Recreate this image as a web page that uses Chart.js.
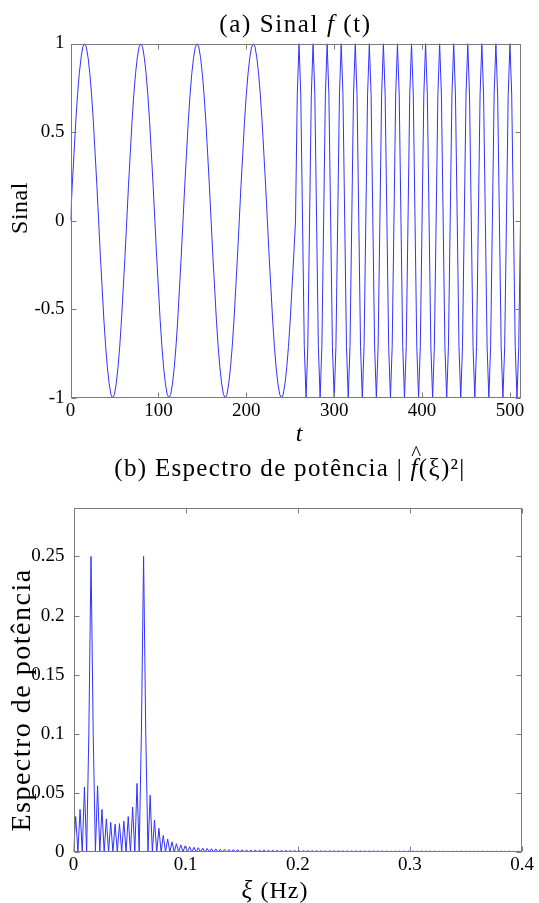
<!DOCTYPE html>
<html>
<head>
<meta charset="utf-8">
<script src="https://cdn.jsdelivr.net/npm/chart.js@4.4.0/dist/chart.umd.min.js"></script>
<style>
body{margin:0;background:#fff;}
canvas{position:absolute;left:0;}
#sinal{top:0;}
#espectro{top:445px;}
</style>
</head>
<body>
<canvas id="sinal" width="539" height="455"></canvas>
<canvas id="espectro" width="539" height="458"></canvas>
<script>
const tStep = 2;
const sinalLento = [
    0,0.2,0.38,0.56,0.71,0.83,0.92,0.98,1,0.98,0.92,0.83,0.71,0.56,0.38,0.2,0,-0.2,-0.38,-0.56,-0.71,-0.83,-0.92,-0.98,-1,-0.98,-0.92,-0.83,-0.71,-0.56,-0.38,-0.2,
    0,0.2,0.38,0.56,0.71,0.83,0.92,0.98,1,0.98,0.92,0.83,0.71,0.56,0.38,0.2,0,-0.2,-0.38,-0.56,-0.71,-0.83,-0.92,-0.98,-1,-0.98,-0.92,-0.83,-0.71,-0.56,-0.38,-0.2,
    0,0.2,0.38,0.56,0.71,0.83,0.92,0.98,1,0.98,0.92,0.83,0.71,0.56,0.38,0.2,0,-0.2,-0.38,-0.56,-0.71,-0.83,-0.92,-0.98,-1,-0.98,-0.92,-0.83,-0.71,-0.56,-0.38,-0.2,
    0,0.2,0.38,0.56,0.71,0.83,0.92,0.98,1,0.98,0.92,0.83,0.71,0.56,0.38,0.2,0,-0.2,-0.38,-0.56,-0.71,-0.83,-0.92,-0.98,-1,-0.98,-0.92,-0.83,-0.71,-0.56,-0.38,-0.2
];
const sinalRapido = [
    0,0.71,1,0.71,0,-0.71,-1,-0.71, 0,0.71,1,0.71,0,-0.71,-1,-0.71,
    0,0.71,1,0.71,0,-0.71,-1,-0.71, 0,0.71,1,0.71,0,-0.71,-1,-0.71,
    0,0.71,1,0.71,0,-0.71,-1,-0.71, 0,0.71,1,0.71,0,-0.71,-1,-0.71,
    0,0.71,1,0.71,0,-0.71,-1,-0.71, 0,0.71,1,0.71,0,-0.71,-1,-0.71,
    0,0.71,1,0.71,0,-0.71,-1,-0.71, 0,0.71,1,0.71,0,-0.71,-1,-0.71,
    0,0.71,1,0.71,0,-0.71,-1,-0.71, 0,0.71,1,0.71,0,-0.71,-1,-0.71,
    0,0.71,1,0.71,0,-0.71,-1,-0.71, 0,0.71,1,0.71,0,-0.71,-1,-0.71,
    0,0.71,1,0.71,0,-0.71,-1,-0.71, 0,0.71,1,0.71,0,-0.71,-1,-0.71,
    0
];
const tTicks = [0,100,200,300,400,500];
const sinalTicks = [-1,-0.5,0,0.5,1];

// (b) espectro de potencia, um valor por bin (1/512 Hz)
const binWidth = 1/512;
const espectro = [
    0,0.030,0,0.036,0,0.055,0,0.10,0.25,0.10,
    0,0.056,0,0.036,0,0.028,0,0.025,0,0.0235,
    0,0.024,0,0.026,0,0.030,0,0.038,0,0.058,
    0,0.10,0.25,0.10,0,0.048,0,0.027,0,0.020,
    0,0.014,0,0.011,0,0.0085,0,0.007,0,0.006,
    0,0.0052,0,0.0045,0,0.004,0,0.0036,0,0.0033,
    0,0.003,0,0.0028,0,0.0026,0,0.0024,0,0.0022,
    0,0.0021,0,0.002,0,0.0019,0,0.0018,0,0.0017,
    0,0.0016,0,0.0016,0,0.0015,0,0.0015,0,0.0014,
    0,0.0014,0,0.0013,0,0.0013,0,0.0013,0,0.0012,
    0,0.0012,0,0.0012,0,0.0011,0,0.0011,0,0.0011,
    0,0.0011,0,0.001,0,0.001,0,0.001,0,0.001,
    0,0.001,0,0.001,0,0.001,0,0.0009,0,0.0009,
    0,0.0009,0,0.0009,0,0.0009,0,0.0009,0,0.0009,
    0,0.0009,0,0.0008,0,0.0008,0,0.0008,0,0.0008,
    0,0.0008,0,0.0008,0,0.0008,0,0.0008,0,0.0008,
    0,0.0008,0,0.0008,0,0.0007,0,0.0007,0,0.0007,
    0,0.0007,0,0.0007,0,0.0007,0,0.0007,0,0.0007,
    0,0.0007,0,0.0007,0,0.0007,0,0.0007,0,0.0007,
    0,0.0007,0,0.0007,0,0.0007,0,0.0007,0,0.0007,
    0,0.0007,0,0.0007,0,0.0007
];
const xiTicks = [0,0.1,0.2,0.3,0.4];
const potTicks = [0,0.05,0.1,0.15,0.2,0.25];

const azul = 'rgb(50,50,255)';
const serif = '"Liberation Serif", "Times New Roman", serif';
const fonteTicks = { family: serif, size: 19 };
const rotulo = v => String(+v.toFixed(2));

// caixa com tracinhos para dentro, estilo matlab
const moldura = {
    id: 'moldura',
    afterDraw(chart) {
        const {ctx, chartArea: a, scales} = chart;
        const L = Math.round(a.left) + 0.5, R = Math.round(a.right) - 0.5;
        const T = Math.round(a.top) + 0.5, B = Math.round(a.bottom) - 0.5;
        ctx.save();
        ctx.strokeStyle = '#7a7a7a';
        ctx.lineWidth = 1;
        ctx.strokeRect(L, T, R - L, B - T);
        ctx.beginPath();
        scales.x.ticks.forEach(t => {
            const x = Math.round(scales.x.getPixelForValue(t.value)) + 0.5;
            ctx.moveTo(x, B); ctx.lineTo(x, B - 5);
            ctx.moveTo(x, T); ctx.lineTo(x, T + 5);
        });
        scales.y.ticks.forEach(t => {
            const y = Math.round(scales.y.getPixelForValue(t.value)) + 0.5;
            ctx.moveTo(L, y); ctx.lineTo(L + 5, y);
            ctx.moveTo(R, y); ctx.lineTo(R - 5, y);
        });
        ctx.stroke();
        ctx.restore();
    }
};

function texto(ctx, partes, cx, y, espaco) {
    ctx.save();
    ctx.letterSpacing = espaco + 'px';
    ctx.fillStyle = '#000';
    ctx.textAlign = 'left';
    ctx.textBaseline = 'alphabetic';
    let total = 0;
    partes.forEach(p => { ctx.font = p.f; p.w = ctx.measureText(p.s).width; total += p.w; });
    let x = cx - total / 2;
    partes.forEach(p => {
        ctx.font = p.f;
        ctx.fillText(p.s, x, y);
        if (p.chapeu) {
            ctx.font = '21px ' + serif;
            ctx.textAlign = 'center';
            ctx.fillText('^', x + p.w / 2 + 2, y - 16);
            ctx.textAlign = 'left';
        }
        x += p.w;
    });
    ctx.restore();
}

function textoVertical(ctx, s, f, bx, cy, espaco) {
    ctx.save();
    ctx.translate(bx, cy);
    ctx.rotate(-Math.PI / 2);
    texto(ctx, [{s: s, f: f}], 0, 0, espaco);
    ctx.restore();
}

const textosA = {
    id: 'textosA',
    afterDraw(chart) {
        const ctx = chart.ctx;
        texto(ctx, [
            {s: '(a) Sinal ', f: '25px ' + serif},
            {s: 'f', f: 'italic 25px ' + serif},
            {s: ' (t)', f: '25px ' + serif}
        ], 295.5, 32, 1.6);
        texto(ctx, [{s: 't', f: 'italic 24px ' + serif}], 299, 441, 0);
        textoVertical(ctx, 'Sinal', '24px ' + serif, 26.5, 208, 0.5);
    }
};

// coordenadas locais do segundo canvas (comeca em y = 445)
const textosB = {
    id: 'textosB',
    afterDraw(chart) {
        const ctx = chart.ctx;
        texto(ctx, [
            {s: '(b) Espectro de potência | ', f: '25px ' + serif},
            {s: 'f', f: 'italic 25px ' + serif, chapeu: true},
            {s: '(ξ)²|', f: '25px ' + serif}
        ], 290, 31, 1.3);
        texto(ctx, [
            {s: 'ξ ', f: 'italic 25px ' + serif},
            {s: '(Hz)', f: '24px ' + serif}
        ], 275, 453, 1);
        textoVertical(ctx, 'Espectro de potência', '28px ' + serif, 30, 255, 1.5);
    }
};

function fixarTicks(lista) {
    return s => { s.ticks = lista.map(v => ({value: v})); };
}

function sinal() {
    return sinalLento.concat(sinalRapido).map((v, i) => ({x: i * tStep, y: v}));
}

new Chart(document.getElementById('sinal'), {
    type: 'line',
    data: {
        datasets: [{
            data: sinal(),
            borderColor: azul,
            borderWidth: 1,
            pointRadius: 0,
            tension: 0
        }]
    },
    options: {
        responsive: false,
        animation: false,
        layout: { padding: { top: 43.5, right: 18.5, bottom: 0, left: 0 } },
        plugins: { legend: { display: false }, tooltip: { enabled: false } },
        scales: {
            x: {
                type: 'linear', min: 0, max: 512,
                grid: { display: false, drawTicks: false },
                border: { display: false },
                afterBuildTicks: fixarTicks(tTicks),
                afterFit: s => { s.height = 57; },
                ticks: { font: fonteTicks, color: '#000', padding: 2, maxRotation: 0, autoSkip: false, callback: rotulo }
            },
            y: {
                type: 'linear', min: -1, max: 1,
                grid: { display: false, drawTicks: false },
                border: { display: false },
                afterBuildTicks: fixarTicks(sinalTicks),
                afterFit: s => { s.width = 70.5; },
                ticks: { font: fonteTicks, color: '#000', padding: 6, autoSkip: false, callback: rotulo }
            }
        }
    },
    plugins: [moldura, textosA]
});

new Chart(document.getElementById('espectro'), {
    type: 'line',
    data: {
        datasets: [{
            data: espectro.map((v, k) => ({x: k * binWidth, y: v})),
            borderColor: azul,
            borderWidth: 1,
            pointRadius: 0,
            tension: 0
        }]
    },
    options: {
        responsive: false,
        animation: false,
        layout: { padding: { top: 63, right: 17, bottom: 0, left: 0 } },
        plugins: { legend: { display: false }, tooltip: { enabled: false } },
        scales: {
            x: {
                type: 'linear', min: 0, max: 0.4,
                grid: { display: false, drawTicks: false },
                border: { display: false },
                afterBuildTicks: fixarTicks(xiTicks),
                afterFit: s => { s.height = 51; },
                ticks: { font: fonteTicks, color: '#000', padding: 2, maxRotation: 0, autoSkip: false, callback: rotulo }
            },
            y: {
                type: 'linear', min: 0, max: 0.291,
                grid: { display: false, drawTicks: false },
                border: { display: false },
                afterBuildTicks: fixarTicks(potTicks),
                afterFit: s => { s.width = 73.5; },
                ticks: { font: fonteTicks, color: '#000', padding: 9, autoSkip: false, callback: rotulo }
            }
        }
    },
    plugins: [moldura, textosB]
});
</script>
</body>
</html>
